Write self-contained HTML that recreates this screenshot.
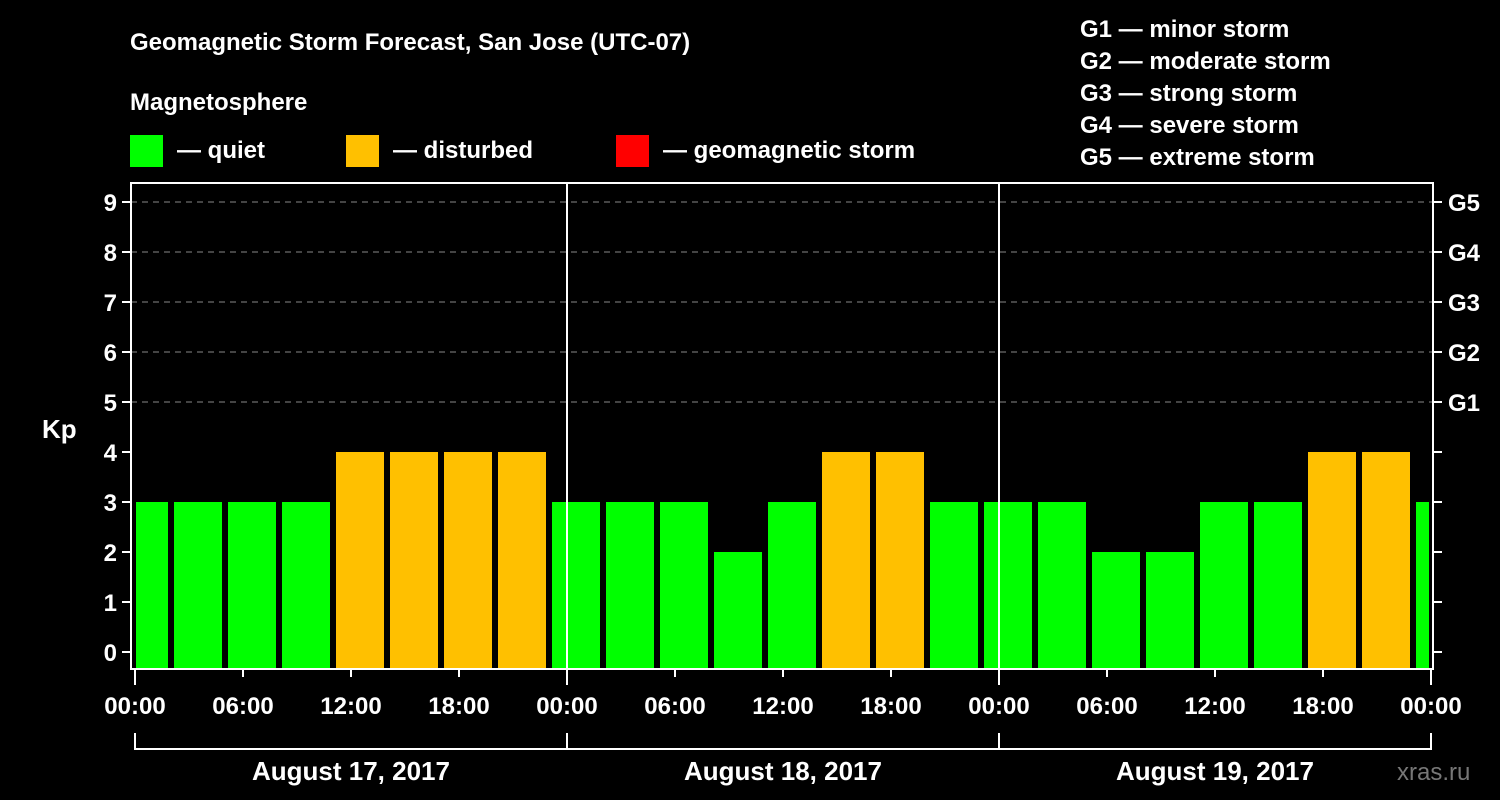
<!DOCTYPE html>
<html><head><meta charset="utf-8"><style>
html,body{margin:0;padding:0;background:#000;}
svg{display:block;font-family:"Liberation Sans",Arial,sans-serif;font-weight:bold;}
</style></head><body>
<svg id="chart" width="1500" height="800" xmlns="http://www.w3.org/2000/svg">
<rect width="1500" height="800" fill="#000"/>
<text x="130" y="50" fill="#fff" font-size="24">Geomagnetic Storm Forecast, San Jose (UTC-07)</text>
<text x="130" y="110" fill="#fff" font-size="24">Magnetosphere</text>
<g><rect x="130" y="135" width="33" height="32" fill="#00ff00"/><text x="177" y="158" fill="#fff" font-size="24">— quiet</text></g>
<g><rect x="346" y="135" width="33" height="32" fill="#ffc000"/><text x="393" y="158" fill="#fff" font-size="24">— disturbed</text></g>
<g><rect x="616" y="135" width="33" height="32" fill="#ff0000"/><text x="663" y="158" fill="#fff" font-size="24">— geomagnetic storm</text></g>
<g fill="#fff" font-size="24">
<text x="1080" y="37">G1 — minor storm</text>
<text x="1080" y="69">G2 — moderate storm</text>
<text x="1080" y="101">G3 — strong storm</text>
<text x="1080" y="133">G4 — severe storm</text>
<text x="1080" y="165">G5 — extreme storm</text>
</g>
<text x="42" y="438" fill="#fff" font-size="26">Kp</text>
<text x="1397" y="780" fill="#777" font-size="24" font-weight="normal">xras.ru</text>
<g id="plot"></g>
</svg>
<script>
const kpValues = [3,3,3,3,4,4,4,4,3,3,3,2,3,4,4,3,3,3,2,2,3,3,4,4,3];
const yTicks = [0,1,2,3,4,5,6,7,8,9];
const gLabels = ["G1","G2","G3","G4","G5"];
const timeLabels = ["00:00","06:00","12:00","18:00"];
const dayLabels = ["August 17, 2017","August 18, 2017","August 19, 2017"];
const firstBinStartHour = -1; // UTC-07 offset of 3-hour bins
const binHours = 3;

const NS="http://www.w3.org/2000/svg";
const plot=document.getElementById('plot');
const X0=135, PX_PER_H=18, XEND=135+72*18;
const Y0=652, PX_PER_KP=50;
const xs=h=>X0+h*PX_PER_H;
const ys=v=>Y0-v*PX_PER_KP;
const FL=131, FR=1433, FT=183, FB=669;
function mk(tag,attrs,parent){const e=document.createElementNS(NS,tag);for(const k in attrs)e.setAttribute(k,attrs[k]);(parent||plot).appendChild(e);return e;}

// grid lines
yTicks.forEach(v=>{
  if(v>=5){const l=mk('line',{x1:FL,x2:FR,y1:ys(v),y2:ys(v),stroke:'#888','stroke-width':1,'stroke-dasharray':'6,5'});
  
  }
});
// bars
kpValues.forEach((v,i)=>{
  let h0=firstBinStartHour+i*binHours, h1=h0+binHours;
  let x0=xs(h0)+3, x1=xs(h1)-3;
  if(h0<0)x0=xs(0)+1;
  if(h1>72)x1=xs(72)-2;
  const color=v>=5?'#ff0000':(v>=4?'#ffc000':'#00ff00');
  const r=mk('rect',{x:x0,y:ys(v),width:x1-x0,height:FB-ys(v),fill:color});
  
  
});
// frame
const fr=mk('rect',{x:FL,y:FT,width:FR-FL,height:FB-FT,fill:'none',stroke:'#fff','stroke-width':2});


[1,2].forEach(d=>{const l=mk('line',{x1:xs(24*d),x2:xs(24*d),y1:FT,y2:FB,stroke:'#fff','stroke-width':2});

});
// y ticks
yTicks.forEach(v=>{
  mk('line',{x1:FL-9,x2:FL,y1:ys(v),y2:ys(v),stroke:'#fff','stroke-width':2});
  mk('line',{x1:FR,x2:FR+9,y1:ys(v),y2:ys(v),stroke:'#fff','stroke-width':2});
  const t=mk('text',{x:FL-14,y:ys(v)+9,fill:'#fff','font-size':24,'text-anchor':'end'});
  t.textContent=v;
  
  
});
gLabels.forEach((g,i)=>{
  const t=mk('text',{x:FR+15,y:ys(5+i)+9,fill:'#fff','font-size':24});
  t.textContent=g;
  
  
});
// x ticks
for(let h=0;h<=72;h+=6){
  const major=h%24===0;
  mk('line',{x1:xs(h),x2:xs(h),y1:FB,y2:major?685:677,stroke:'#fff','stroke-width':2});
  const t=mk('text',{x:xs(h),y:714,fill:'#fff','font-size':24,'text-anchor':'middle'});
  t.textContent=timeLabels[(h/6)%4];
  
  
}
// day brackets
mk('path',{d:`M${xs(0)} 733V749H${xs(72)}V733M${xs(24)} 733V749M${xs(48)} 733V749`,fill:'none',stroke:'#fff','stroke-width':2});
dayLabels.forEach((d,i)=>{
  const t=mk('text',{x:xs(24*i+12),y:780,fill:'#fff','font-size':26,'text-anchor':'middle'});
  t.textContent=d;
  
  
});
</script>
</body></html>
